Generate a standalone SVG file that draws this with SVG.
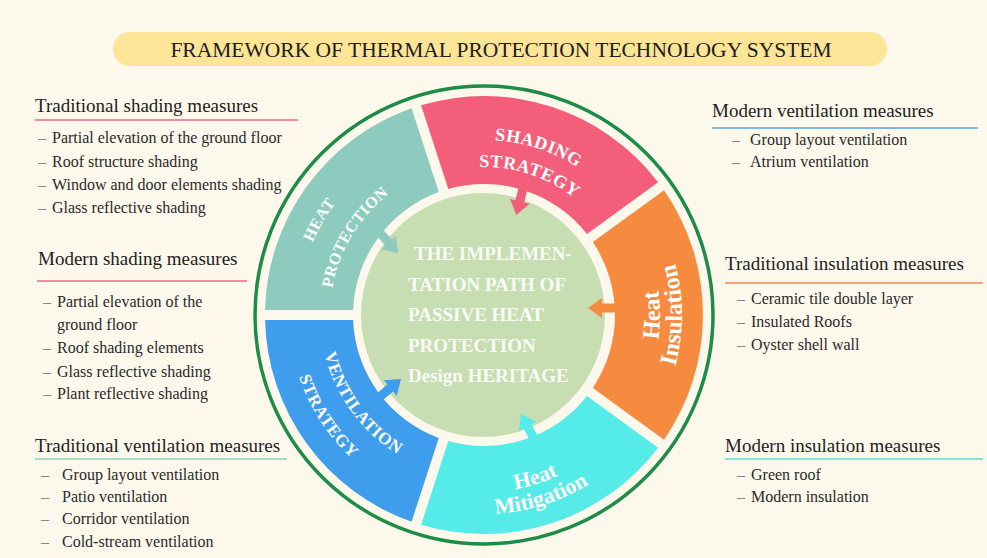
<svg xmlns="http://www.w3.org/2000/svg" width="987" height="558" viewBox="0 0 987 558">
<defs>
<style>
.serif{font-family:"Liberation Serif","Times New Roman",serif}
.head{font-family:"Liberation Serif","Times New Roman",serif;font-size:19px;fill:#222}
.item{font-family:"Liberation Serif","Times New Roman",serif;font-size:16px;fill:#2a2a2a}
.dash{fill:#888}
.seg{font-family:"Liberation Serif","Times New Roman",serif;font-weight:bold;fill:#ffffff}
.ctr{font-family:"Liberation Serif","Times New Roman",serif;font-weight:bold;font-size:19px;fill:#ffffff;fill-opacity:0.92}
.ul{stroke-width:2;fill:none}
</style>
<polygon id="arr" points="0,0 14,-10 14,-4.5 31,-4.5 31,4.5 14,4.5 14,10"/>
<path id="pSH1" d="M418.44,152.74 A175,175 0 0 1 632.40,222.27"/>
<path id="pSH2" d="M428.56,177.77 A148,148 0 0 1 609.50,236.57"/>
<path id="pHP1" d="M300.83,347.30 A186,186 0 0 1 420.39,140.22"/>
<path id="pHP2" d="M331.90,339.09 A154,154 0 0 1 433.86,169.39"/>
<path id="pIN1" d="M618.82,428.13 A176,176 0 0 0 618.82,201.87"/>
<path id="pIN2" d="M635.67,442.27 A198,198 0 0 0 635.67,187.73"/>
<path id="pMI1" d="M416.26,478.53 A177,177 0 0 0 633.28,410.10"/>
<path id="pMI2" d="M407.84,498.86 A199,199 0 0 0 651.84,421.92"/>
<path id="pVE1" d="M320.40,303.56 A164,164 0 0 0 444.33,474.13"/>
<path id="pVE2" d="M290.45,291.23 A195,195 0 0 0 426.99,501.48"/>
</defs>
<rect x="0" y="0" width="987" height="558" fill="#fdf8ec"/>

<g id="title">
<rect x="113" y="32" width="774" height="34" rx="17" fill="#fde598"/>
<text class="serif" x="501" y="56.5" font-size="21.5" fill="#1e1e1e" text-anchor="middle">FRAMEWORK OF THERMAL PROTECTION TECHNOLOGY SYSTEM</text>
</g>

<g id="outer-ring">
<circle cx="484" cy="315" r="229" fill="none" stroke="#1c8c47" stroke-width="3.5"/>
</g>

<g id="center">
<circle cx="483" cy="315" r="122" fill="#c6deb1"/>
<text class="ctr" x="414" y="260">THE IMPLEMEN-</text>
<text class="ctr" x="408" y="290.5">TATION PATH OF</text>
<text class="ctr" x="408" y="321">PASSIVE HEAT</text>
<text class="ctr" x="408" y="351.5">PROTECTION</text>
<text class="ctr" x="408" y="382">Design HERITAGE</text>
</g>

<g id="seg-heat-protection">
<path d="M265.06,309.99 A219,219 0 0 1 411.58,108.33 L438.79,192.04 A131,131 0 0 0 353.10,309.99 Z" fill="#8ccbbd"/>
<text class="seg" font-size="16" letter-spacing="0.5"><textPath href="#pHP1" startOffset="50%" text-anchor="middle">HEAT</textPath></text>
<text class="seg" font-size="16" letter-spacing="0.5"><textPath href="#pHP2" startOffset="50%" text-anchor="middle">PROTECTION</textPath></text>
</g>

<g id="seg-shading">
<path d="M421.10,105.22 A219,219 0 0 1 658.13,182.26 L586.98,234.00 A131,131 0 0 0 448.32,188.95 Z" fill="#f35e7b"/>
<text class="seg" font-size="18" letter-spacing="0.6"><textPath href="#pSH1" startOffset="50%" text-anchor="middle">SHADING</textPath></text>
<text class="seg" font-size="18" letter-spacing="0.6"><textPath href="#pSH2" startOffset="50%" text-anchor="middle">STRATEGY</textPath></text>
</g>

<g id="seg-heat-insulation">
<path d="M664.06,190.37 A219,219 0 0 1 664.06,439.63 L592.85,387.89 A131,131 0 0 0 592.85,242.11 Z" fill="#f68a3e"/>
<text class="seg" font-size="24"><textPath href="#pIN1" startOffset="50%" text-anchor="middle">Heat</textPath></text>
<text class="seg" font-size="24"><textPath href="#pIN2" startOffset="50%" text-anchor="middle">Insulation</textPath></text>
</g>

<g id="seg-heat-mitigation">
<path d="M658.13,447.74 A219,219 0 0 1 421.10,524.78 L448.32,441.05 A131,131 0 0 0 586.98,396.00 Z" fill="#54ebe9"/>
<text class="seg" font-size="22"><textPath href="#pMI1" startOffset="50%" text-anchor="middle">Heat</textPath></text>
<text class="seg" font-size="22"><textPath href="#pMI2" startOffset="50%" text-anchor="middle">Mitigation</textPath></text>
</g>

<g id="seg-ventilation">
<path d="M411.58,521.67 A219,219 0 0 1 265.06,320.01 L353.10,320.01 A131,131 0 0 0 438.79,437.96 Z" fill="#3f9ded"/>
<text class="seg" font-size="17" letter-spacing="0.8"><textPath href="#pVE1" startOffset="50%" text-anchor="middle">VENTILATION</textPath></text>
<text class="seg" font-size="17" letter-spacing="0.8"><textPath href="#pVE2" startOffset="50%" text-anchor="middle">STRATEGY</textPath></text>
</g>

<g id="connectors">
<use href="#arr" fill="#f35e7b" transform="translate(516.4,215) rotate(-76)"/>
<use href="#arr" fill="#8ccbbd" transform="translate(398,253) rotate(228)"/>
<use href="#arr" fill="#f68a3e" transform="translate(588,308) rotate(0)"/>
<use href="#arr" fill="#54ebe9" transform="translate(521,414) rotate(62)"/>
<use href="#arr" fill="#3f9ded" transform="translate(401,379) rotate(140)"/>
</g>

<g id="traditional-shading">
<text class="head" x="35" y="112">Traditional shading measures</text>
<line class="ul" x1="35" y1="120" x2="298" y2="120" stroke="#ee8e9d"/>
<text class="item" x="38" y="143"><tspan class="dash">–</tspan><tspan x="52">Partial elevation of the ground floor</tspan></text>
<text class="item" x="38" y="166.5"><tspan class="dash">–</tspan><tspan x="52">Roof structure shading</tspan></text>
<text class="item" x="38" y="190"><tspan class="dash">–</tspan><tspan x="52">Window and door elements shading</tspan></text>
<text class="item" x="38" y="213"><tspan class="dash">–</tspan><tspan x="52">Glass reflective shading</tspan></text>
</g>

<g id="modern-shading">
<text class="head" x="38" y="265">Modern shading measures</text>
<line class="ul" x1="37" y1="281" x2="247" y2="281" stroke="#ee8e9d"/>
<text class="item" x="43" y="307"><tspan class="dash">–</tspan><tspan x="57">Partial elevation of the</tspan></text>
<text class="item" x="57" y="330">ground floor</text>
<text class="item" x="43" y="353"><tspan class="dash">–</tspan><tspan x="57">Roof shading elements</tspan></text>
<text class="item" x="43" y="377"><tspan class="dash">–</tspan><tspan x="57">Glass reflective shading</tspan></text>
<text class="item" x="43" y="399"><tspan class="dash">–</tspan><tspan x="57">Plant reflective shading</tspan></text>
</g>

<g id="traditional-ventilation">
<text class="head" x="35" y="452">Traditional ventilation measures</text>
<line class="ul" x1="35" y1="459" x2="287" y2="459" stroke="#a9d9c6"/>
<text class="item" x="41" y="480"><tspan class="dash">–</tspan><tspan x="62">Group layout ventilation</tspan></text>
<text class="item" x="41" y="502"><tspan class="dash">–</tspan><tspan x="62">Patio ventilation</tspan></text>
<text class="item" x="41" y="524"><tspan class="dash">–</tspan><tspan x="62">Corridor ventilation</tspan></text>
<text class="item" x="41" y="547"><tspan class="dash">–</tspan><tspan x="62">Cold-stream ventilation</tspan></text>
</g>

<g id="modern-ventilation">
<text class="head" x="712" y="117">Modern ventilation measures</text>
<line class="ul" x1="712" y1="128" x2="978" y2="128" stroke="#7fb8e0"/>
<text class="item" x="732" y="145"><tspan class="dash">–</tspan><tspan x="750">Group layout ventilation</tspan></text>
<text class="item" x="732" y="167"><tspan class="dash">–</tspan><tspan x="750">Atrium ventilation</tspan></text>
</g>

<g id="traditional-insulation">
<text class="head" x="725" y="270">Traditional insulation measures</text>
<line class="ul" x1="725" y1="283" x2="983" y2="283" stroke="#f3a679"/>
<text class="item" x="737" y="304"><tspan class="dash">–</tspan><tspan x="751">Ceramic tile double layer</tspan></text>
<text class="item" x="737" y="327"><tspan class="dash">–</tspan><tspan x="751">Insulated Roofs</tspan></text>
<text class="item" x="737" y="350"><tspan class="dash">–</tspan><tspan x="751">Oyster shell wall</tspan></text>
</g>

<g id="modern-insulation">
<text class="head" x="725" y="452">Modern insulation measures</text>
<line class="ul" x1="725" y1="459" x2="983" y2="459" stroke="#84e3db"/>
<text class="item" x="737" y="480"><tspan class="dash">–</tspan><tspan x="751">Green roof</tspan></text>
<text class="item" x="737" y="502"><tspan class="dash">–</tspan><tspan x="751">Modern insulation</tspan></text>
</g>
</svg>
